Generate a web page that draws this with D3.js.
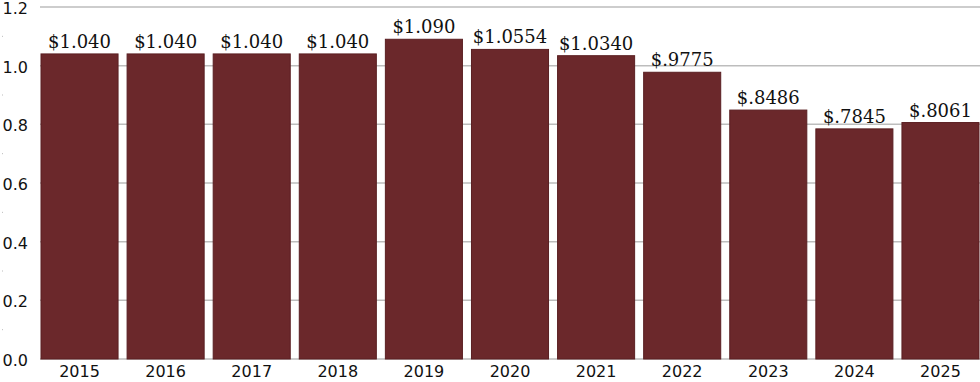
<!DOCTYPE html>
<html><head><meta charset="utf-8">
<script src="https://cdn.jsdelivr.net/npm/d3@7"></script>
<style>body{margin:0;background:#fff}</style>
</head><body>
<svg id="c" width="980" height="382"></svg>
<script>
const years = ["2015","2016","2017","2018","2019","2020","2021","2022","2023","2024","2025"];
const values = [1.040,1.040,1.040,1.040,1.090,1.0554,1.0340,0.9775,0.8486,0.7845,0.8061];
const valueLabels = ["$1.040","$1.040","$1.040","$1.040","$1.090","$1.0554","$1.0340","$.9775","$.8486","$.7845","$.8061"];
const yTicks = [0,0.2,0.4,0.6,0.8,1.0,1.2];

const svg = d3.select("#c");
const x = d3.scaleBand().domain(years).range([41,979]).paddingInner(0.105).paddingOuter(0);
const y = d3.scaleLinear().domain([0,1.2]).range([359,7]);

// gridlines
svg.append("g").selectAll("line").data(yTicks).join("line")
  .attr("x1",40).attr("x2",980).attr("y1",d=>y(d)).attr("y2",d=>y(d))
  .attr("stroke","#bdbdbd").attr("stroke-width",1.5);
// minor ticks
svg.append("g").selectAll("rect").data(d3.range(0.1,1.2,0.2)).join("rect")
  .attr("x",2).attr("y",d=>y(d)-0.5).attr("width",1).attr("height",1).attr("fill","#bbb");

// y labels
svg.append("g").selectAll("text").data(yTicks).join("text")
  .attr("x",28).attr("y",d=>y(d)+1.5).attr("dy","0.35em").attr("text-anchor","end")
  .attr("font-family","DejaVu Sans, sans-serif").attr("font-size",16).attr("fill","#111")
  .text(d=>d.toFixed(1));

// bars
svg.append("g").selectAll("rect").data(years).join("rect")
  .attr("x",d=>x(d)).attr("width",x.bandwidth())
  .attr("y",(d,i)=>y(values[i])).attr("height",(d,i)=>y(0)-y(values[i]))
  .attr("fill","#6b282b").attr("stroke","#5a1f22").attr("stroke-width",1);

// value labels
svg.append("g").selectAll("text").data(years).join("text")
  .attr("x",d=>x(d)+x.bandwidth()/2).attr("y",(d,i)=>y(values[i])-6)
  .attr("text-anchor","middle").attr("font-family","DejaVu Serif, serif").attr("font-size",18).attr("fill","#111")
  .text((d,i)=>valueLabels[i]);

// x labels
svg.append("g").selectAll("text").data(years).join("text")
  .attr("x",d=>x(d)+x.bandwidth()/2).attr("y",377)
  .attr("text-anchor","middle").attr("font-family","DejaVu Sans, sans-serif").attr("font-size",16).attr("fill","#111")
  .text(d=>d);
</script>
</body></html>
